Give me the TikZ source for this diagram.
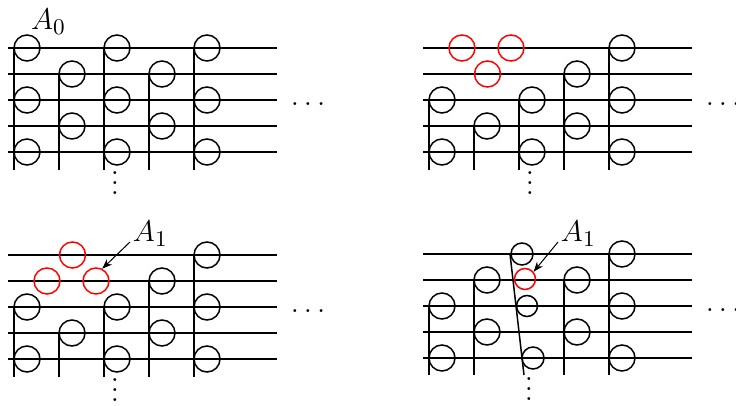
\documentclass[tikz,border=0pt]{standalone}
\usepackage{tikz}
\usetikzlibrary{arrows.meta}
\tikzset{
  rail/.style={semithick},
  ring/.style={semithick},
  newring/.style={circle, draw=red, semithick, inner sep=0pt, minimum size=10.4pt},
  lbl/.style={font=\fontsize{12.5}{15}\selectfont, inner sep=1pt},
  more/.style={font=\large, inner sep=1pt},
  pointer/.style={-{Stealth[length=4pt, width=3pt]}},
}
\begin{document}
\begin{tikzpicture}[x=0.4pt, y=-0.4pt]
  \useasboundingbox (0,0) rectangle (736,406);
  % top left
  \foreach \y in {48,74,100,126,152}
    \draw[rail] (8,\y) -- (277,\y);
  \foreach \x/\y in {14/48, 59/74, 104/48, 149/74, 194/48}
    \draw[rail] (\x,\y) -- (\x,170);
  \foreach \x/\y in {27/48, 27/100, 27/152, 72/74, 72/126, 117/48, 117/100,
                     117/152, 162/74, 162/126, 207/48, 207/100, 207/152}
    \draw[ring] (\x,\y) circle (13);
  \node[lbl, anchor=base west] (A0) at (28,30) {$A_0$};
  \node[more] (hdotsA) at (308,104) {$\ldots$};
  \node[more, anchor=base] (vdotsA) at (115,195) {$\vdots$};

  % top right
  \begin{scope}[shift={(415,0)}]
    \foreach \y in {48,74,100,126,152}
      \draw[rail] (8,\y) -- (277,\y);
    \foreach \x/\y in {14/100, 59/126, 104/100, 149/74, 194/48}
      \draw[rail] (\x,\y) -- (\x,170);
    \foreach \x/\y in {27/100, 27/152, 72/126, 117/100, 117/152,
                       162/74, 162/126, 207/48, 207/100, 207/152}
      \draw[ring] (\x,\y) circle (13);
    \node[newring] (rB1) at (47,48) {};
    \node[newring] (rB2) at (96,48) {};
    \node[newring] (rB3) at (72.5,74) {};
    \node[more] (hdotsB) at (308,104) {$\ldots$};
    \node[more, anchor=base] (vdotsB) at (115,195) {$\vdots$};
  \end{scope}

  % bottom left
  \begin{scope}[shift={(0,207)}]
    \foreach \y in {48,74,100,126,152}
      \draw[rail] (8,\y) -- (277,\y);
    \foreach \x/\y in {14/100, 59/126, 104/100, 149/74, 194/48}
      \draw[rail] (\x,\y) -- (\x,170);
    \foreach \x/\y in {27/100, 27/152, 72/126, 117/100, 117/152,
                       162/74, 162/126, 207/48, 207/100, 207/152}
      \draw[ring] (\x,\y) circle (13);
    \node[newring] (rC1) at (72.5,48) {};
    \node[newring] (rC2) at (47,74) {};
    \node[newring] (rC3) at (96,74) {};
    \node[lbl, anchor=base west] (A1C) at (130,35) {$A_1$};
    \draw[pointer] (A1C.base west) -- (rC3.63);
    \node[more] (hdotsC) at (308,104) {$\ldots$};
    \node[more, anchor=base] (vdotsC) at (115,195) {$\vdots$};
  \end{scope}

  % bottom right
  \begin{scope}[shift={(415,206)}]
    \foreach \y in {48,74,100,126,152}
      \draw[rail] (8,\y) -- (277,\y);
    \foreach \x/\y in {14/100, 59/74, 149/74, 194/48}
      \draw[rail] (\x,\y) -- (\x,169);
    \draw[rail] (95,48) -- (109,169);
    \foreach \x/\y in {27/100, 27/152, 72/74, 72/126,
                       162/74, 162/126, 207/48, 207/100, 207/152}
      \draw[ring] (\x,\y) circle (13);
    \draw[ring] (107,48) circle (11);
    \draw[ring] (112,100) circle (10.5);
    \draw[ring] (118,152) circle (11);
    \node[newring, minimum size=8.4pt] (rD) at (110,73) {};
    \node[lbl, anchor=base west] (A1D) at (143,36) {$A_1$};
    \draw[pointer] (A1D.base west) -- (rD.40);
    \node[more] (hdotsD) at (308,104) {$\ldots$};
    \node[more, anchor=base] (vdotsD) at (114,195) {$\vdots$};
  \end{scope}
\end{tikzpicture}
\end{document}
